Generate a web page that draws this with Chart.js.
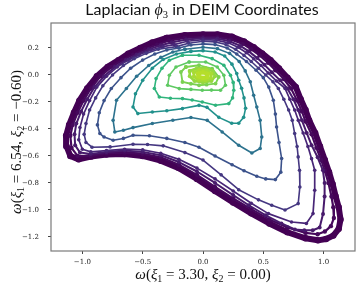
<!DOCTYPE html>
<html>
<head>
<meta charset="utf-8">
<script src="https://cdn.jsdelivr.net/npm/chart.js@4.4.1/dist/chart.umd.min.js"></script>
<style>
  html, body { margin: 0; padding: 0; background: #fff; }
</style>
</head>
<body>
<canvas id="chart" width="359" height="284"></canvas>
<script>
// tick positions
const xTicks = [-1.0, -0.5, 0.0, 0.5, 1.0];
const yTicks = [-1.2, -1.0, -0.8, -0.6, -0.4, -0.2, 0.0, 0.2];

// level curves, outermost first as [x, y]
const outerBand = [[-0.3,0.275],[-0.15,0.295],[0.0,0.3],[0.12,0.3],[0.24,0.283],[0.34,0.248],[0.42,0.205],[0.49,0.16],[0.56,0.11],[0.63,0.048],[0.70,-0.02],[0.77,-0.09],[0.81,-0.18],[0.85,-0.26],[0.88,-0.336],[0.93,-0.43],[0.97,-0.53],[1.01,-0.63],[1.045,-0.72],[1.075,-0.81],[1.1,-0.9],[1.125,-0.98],[1.14,-1.07],[1.125,-1.14],[1.08,-1.19],[1.02,-1.215],[0.953,-1.225],[0.85,-1.21],[0.70,-1.165],[0.55,-1.1],[0.40,-1.025],[0.25,-0.945],[0.10,-0.86],[-0.05,-0.77],[-0.2,-0.69],[-0.35,-0.635],[-0.50,-0.6],[-0.65,-0.585],[-0.80,-0.59],[-0.93,-0.605],[-1.03,-0.625],[-1.10,-0.6],[-1.13,-0.53],[-1.135,-0.45],[-1.11,-0.37],[-1.07,-0.28],[-1.025,-0.19],[-0.96,-0.1],[-0.88,-0.01],[-0.79,0.06],[-0.70,0.11],[-0.62,0.158],[-0.52,0.2],[-0.42,0.24]];
const level10 = [[-0.28,0.255],[-0.15,0.275],[0.0,0.282],[0.12,0.28],[0.23,0.263],[0.33,0.23],[0.4,0.19],[0.47,0.145],[0.54,0.09],[0.6,0.035],[0.67,-0.03],[0.73,-0.1],[0.78,-0.19],[0.82,-0.27],[0.85,-0.345],[0.9,-0.44],[0.94,-0.54],[0.98,-0.63],[1.01,-0.71],[1.04,-0.8],[1.065,-0.9],[1.08,-0.98],[1.085,-1.06],[1.06,-1.12],[1.01,-1.16],[0.95,-1.18],[0.85,-1.17],[0.70,-1.13],[0.55,-1.07],[0.40,-0.995],[0.25,-0.915],[0.10,-0.83],[-0.05,-0.74],[-0.2,-0.665],[-0.35,-0.61],[-0.5,-0.585],[-0.65,-0.575],[-0.8,-0.58],[-0.93,-0.6],[-1.04,-0.6],[-1.09,-0.54],[-1.1,-0.45],[-1.08,-0.37],[-1.04,-0.28],[-0.99,-0.19],[-0.93,-0.1],[-0.85,-0.01],[-0.76,0.06],[-0.67,0.11],[-0.58,0.15],[-0.48,0.19],[-0.38,0.225]];
const level9 = [[-0.26,0.24],[-0.14,0.262],[0.0,0.272],[0.12,0.27],[0.22,0.25],[0.31,0.215],[0.38,0.175],[0.45,0.125],[0.51,0.075],[0.57,0.02],[0.64,-0.04],[0.7,-0.1],[0.75,-0.18],[0.79,-0.26],[0.82,-0.336],[0.86,-0.43],[0.9,-0.52],[0.95,-0.61],[0.994,-0.706],[1.008,-0.8],[1.008,-0.9],[0.995,-1.03],[0.967,-1.13],[0.91,-1.15],[0.84,-1.15],[0.762,-1.145],[0.65,-1.1],[0.52,-1.04],[0.38,-0.965],[0.25,-0.89],[0.10,-0.80],[-0.05,-0.715],[-0.2,-0.645],[-0.35,-0.595],[-0.5,-0.57],[-0.65,-0.56],[-0.8,-0.57],[-0.93,-0.585],[-1.02,-0.575],[-1.06,-0.52],[-1.065,-0.44],[-1.05,-0.36],[-1.01,-0.27],[-0.96,-0.18],[-0.9,-0.09],[-0.82,-0.01],[-0.73,0.06],[-0.64,0.11],[-0.55,0.15],[-0.45,0.19],[-0.35,0.22]];
const level8 = [[-0.24,0.225],[-0.13,0.25],[0.0,0.262],[0.11,0.258],[0.21,0.238],[0.29,0.205],[0.36,0.165],[0.42,0.12],[0.48,0.07],[0.54,0.015],[0.61,-0.045],[0.68,-0.1],[0.72,-0.18],[0.76,-0.26],[0.79,-0.336],[0.83,-0.43],[0.87,-0.53],[0.9,-0.62],[0.926,-0.706],[0.926,-0.854],[0.912,-1.027],[0.857,-1.1],[0.734,-1.089],[0.542,-1.027],[0.4,-0.95],[0.25,-0.86],[0.1,-0.77],[-0.05,-0.69],[-0.2,-0.625],[-0.35,-0.58],[-0.5,-0.555],[-0.65,-0.55],[-0.8,-0.56],[-0.93,-0.57],[-1.0,-0.55],[-1.03,-0.48],[-1.02,-0.39],[-0.99,-0.29],[-0.94,-0.19],[-0.88,-0.09],[-0.8,-0.01],[-0.71,0.06],[-0.62,0.11],[-0.53,0.15],[-0.43,0.185],[-0.33,0.21]];
const level7 = [[-0.22,0.21],[-0.12,0.235],[0.0,0.25],[0.1,0.245],[0.19,0.225],[0.27,0.19],[0.34,0.145],[0.4,0.1],[0.46,0.05],[0.52,0.0],[0.58,-0.05],[0.625,-0.1],[0.67,-0.18],[0.71,-0.26],[0.74,-0.336],[0.76,-0.434],[0.78,-0.53],[0.789,-0.607],[0.8,-0.706],[0.803,-0.83],[0.789,-0.953],[0.68,-1.0],[0.57,-0.965],[0.46,-0.925],[0.296,-0.85],[0.15,-0.74],[0.0,-0.63],[-0.15,-0.575],[-0.33,-0.525],[-0.46,-0.515],[-0.58,-0.513],[-0.77,-0.533],[-0.92,-0.535],[-0.97,-0.5],[-0.985,-0.44],[-0.97,-0.36],[-0.94,-0.26],[-0.89,-0.17],[-0.83,-0.08],[-0.75,0.0],[-0.66,0.07],[-0.57,0.12],[-0.47,0.16],[-0.37,0.19]];
const level6 = [[-0.2,0.2],[-0.1,0.222],[0.0,0.23],[0.1,0.225],[0.2,0.2],[0.28,0.155],[0.36,0.1],[0.44,0.035],[0.5,-0.02],[0.545,-0.09],[0.583,-0.187],[0.6,-0.29],[0.61,-0.385],[0.63,-0.5],[0.652,-0.619],[0.645,-0.72],[0.6,-0.775],[0.52,-0.77],[0.446,-0.75],[0.34,-0.71],[0.241,-0.665],[0.1,-0.6],[-0.033,-0.535],[-0.15,-0.5],[-0.3,-0.47],[-0.444,-0.45],[-0.58,-0.447],[-0.66,-0.47],[-0.745,-0.484],[-0.82,-0.46],[-0.855,-0.434],[-0.875,-0.37],[-0.86,-0.28],[-0.82,-0.19],[-0.76,-0.1],[-0.68,-0.02],[-0.6,0.05],[-0.5,0.11],[-0.4,0.155],[-0.3,0.185]];
const level5 = [[-0.15,0.19],[0.0,0.205],[0.12,0.195],[0.22,0.16],[0.3,0.1],[0.35,0.03],[0.392,-0.05],[0.42,-0.15],[0.446,-0.237],[0.474,-0.336],[0.487,-0.459],[0.474,-0.545],[0.405,-0.578],[0.296,-0.521],[0.159,-0.422],[0.035,-0.336],[-0.1,-0.315],[-0.25,-0.335],[-0.42,-0.36],[-0.58,-0.39],[-0.66,-0.41],[-0.731,-0.422],[-0.745,-0.336],[-0.717,-0.187],[-0.635,-0.1],[-0.55,-0.01],[-0.45,0.07],[-0.35,0.13],[-0.25,0.17]];
const level4 = [[-0.1,0.175],[0.0,0.18],[0.1,0.17],[0.18,0.14],[0.24,0.08],[0.28,0.01],[0.296,-0.039],[0.32,-0.099],[0.34,-0.17],[0.353,-0.247],[0.337,-0.314],[0.296,-0.358],[0.238,-0.358],[0.131,-0.314],[0.033,-0.24],[-0.033,-0.225],[-0.17,-0.249],[-0.3,-0.265],[-0.42,-0.274],[-0.54,-0.286],[-0.58,-0.237],[-0.56,-0.14],[-0.5,-0.04],[-0.42,0.05],[-0.33,0.115],[-0.22,0.155]];
const level3 = [[-0.17,0.146],[-0.033,0.146],[0.076,0.121],[0.173,0.072],[0.228,-0.002],[0.25,-0.055],[0.255,-0.113],[0.245,-0.17],[0.214,-0.212],[0.104,-0.224],[-0.006,-0.2],[-0.09,-0.185],[-0.17,-0.175],[-0.27,-0.172],[-0.362,-0.163],[-0.403,-0.1],[-0.389,-0.027],[-0.34,0.05],[-0.279,0.109]];
const level2 = [[-0.115,0.096],[0.022,0.096],[0.118,0.059],[0.173,-0.002],[0.186,-0.076],[0.145,-0.113],[0.07,-0.112],[-0.006,-0.113],[-0.1,-0.107],[-0.197,-0.101],[-0.293,-0.076],[-0.279,-0.002],[-0.224,0.059]];
const level1 = [[-0.142,0.059],[-0.033,0.072],[0.076,0.047],[0.131,-0.015],[0.104,-0.064],[0.03,-0.072],[-0.033,-0.076],[-0.1,-0.065],[-0.17,-0.052],[-0.183,0.022]];
const level0c = [[-0.11,0.03],[-0.05,0.05],[0.02,0.052],[0.08,0.03],[0.1,-0.01],[0.07,-0.045],[0.0,-0.055],[-0.07,-0.045],[-0.11,-0.01]];
const level0b = [[-0.075,0.02],[-0.03,0.037],[0.03,0.035],[0.07,0.01],[0.065,-0.025],[0.02,-0.04],[-0.035,-0.037],[-0.075,-0.012]];
const level0a = [[-0.04,0.01],[0.0,0.02],[0.04,0.008],[0.035,-0.015],[0.0,-0.022],[-0.035,-0.012]];

const levels = [outerBand, level10, level9, level8, level7, level6, level5, level4, level3, level2, level1, level0c, level0b, level0a];
const levelColors = ['#440154', '#46085c', '#481a6c', '#482677', '#453781', '#3b528b', '#2c728e', '#21918c', '#2fb47c', '#5ec962', '#7ad151', '#95d840', '#a8db34', '#b5de2b'];
const lineWidths = [6, 2.2, 2, 1.7, 1.6, 1.6, 1.6, 1.6, 1.6, 1.6, 1.8, 2.6, 3, 4];
const dotSizes = [3.2, 2.2, 2, 1.8, 1.8, 1.8, 1.8, 1.8, 1.8, 1.8, 1.9, 2, 2, 2.2];

const toPts = arr => arr.concat([arr[0]]).map(p => ({ x: p[0], y: p[1] }));
const fmt = v => v.toFixed(1).replace('-', '\u2212');

const datasets = levels.map((lv, i) => ({
  data: toPts(lv),
  showLine: true,
  borderColor: levelColors[i],
  backgroundColor: levelColors[i],
  borderWidth: lineWidths[i],
  pointRadius: dotSizes[i],
  pointBorderWidth: 0,
  borderJoinStyle: 'round',
  tension: 0,
  order: levels.length - i
}));

const drawRuns = (ctx, runs, cx, cy) => {
  let w = 0;
  runs.forEach(r => { ctx.font = r.f; r.w = ctx.measureText(r.t).width; w += r.w; });
  let x = cx - w / 2;
  runs.forEach(r => { ctx.font = r.f; ctx.fillText(r.t, x, cy + (r.dy || 0)); x += r.w; });
};

const serif = '"Liberation Serif"';
const labelRuns = (a, b) => [
  { t: '\u03c9', f: `italic 15px ${serif}` },
  { t: '(', f: `15px ${serif}` },
  { t: '\u03be', f: `italic 15px ${serif}` },
  { t: '1', f: `10px ${serif}`, dy: 3 },
  { t: ' = ' + a + ', ', f: `15px ${serif}` },
  { t: '\u03be', f: `italic 15px ${serif}` },
  { t: '2', f: `10px ${serif}`, dy: 3 },
  { t: ' = ' + b + ')', f: `15px ${serif}` }
];

const decor = {
  id: 'decor',
  afterDraw(chart) {
    const { ctx, chartArea: a } = chart;
    ctx.save();
    ctx.strokeStyle = '#7a7a7a';
    ctx.lineWidth = 1.2;
    ctx.strokeRect(a.left, a.top, a.right - a.left, a.bottom - a.top);
    ctx.fillStyle = '#111';
    ctx.textBaseline = 'alphabetic';
    drawRuns(ctx, [
      { t: 'Laplacian ', f: '16px Lato' },
      { t: '\u03d5', f: `italic 16px ${serif}` },
      { t: '3', f: `10.5px ${serif}`, dy: 3 },
      { t: ' in DEIM Coordinates', f: '16px Lato' }
    ], 202, 15);
    drawRuns(ctx, labelRuns('3.30', '0.00'), 203, 279);
    ctx.translate(21, 142);
    ctx.rotate(-Math.PI / 2);
    drawRuns(ctx, labelRuns('6.54', '\u22120.60'), 0, 0);
    ctx.restore();
  }
};

new Chart(document.getElementById('chart'), {
  type: 'scatter',
  data: { datasets },
  options: {
    responsive: false,
    animation: false,
    layout: { padding: { top: 23, right: 2, left: 0, bottom: 0 } },
    plugins: { legend: { display: false }, tooltip: { enabled: false } },
    scales: {
      x: {
        min: -1.26, max: 1.26,
        afterFit: s => { s.height = 33; },
        afterBuildTicks: s => { s.ticks = xTicks.map(v => ({ value: v })); },
        ticks: { callback: fmt, font: { family: 'DejaVu Serif', size: 7 }, color: '#222', padding: 4, maxRotation: 0 },
        grid: { drawOnChartArea: false, tickLength: 3, color: '#444' },
        border: { display: false }
      },
      y: {
        min: -1.304, max: 0.385,
        afterFit: s => { s.width = 51; },
        afterBuildTicks: s => { s.ticks = yTicks.map(v => ({ value: v })); },
        ticks: { callback: fmt, font: { family: 'DejaVu Serif', size: 7 }, color: '#222', padding: 9 },
        grid: { drawOnChartArea: false, tickLength: 3, color: '#444' },
        border: { display: false }
      }
    }
  },
  plugins: [decor]
});
</script>
</body>
</html>
